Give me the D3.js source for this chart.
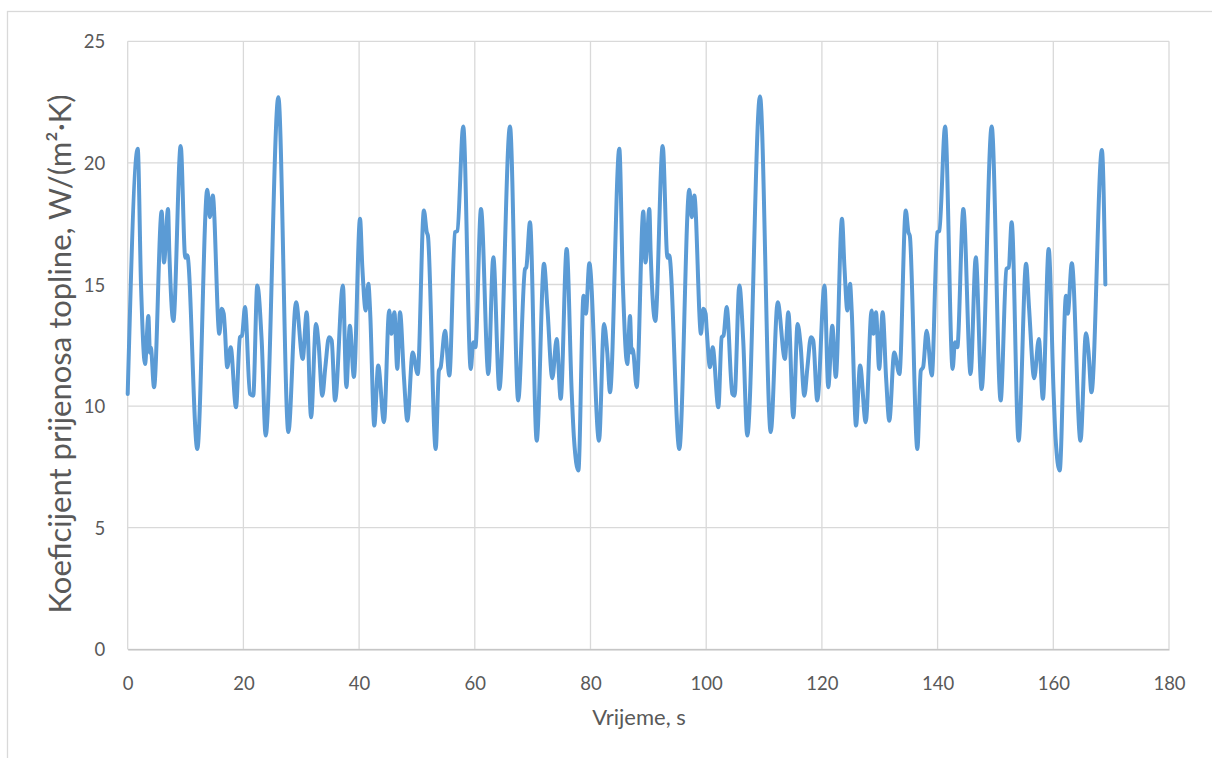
<!DOCTYPE html>
<html>
<head>
<meta charset="utf-8">
<script src="https://cdn.jsdelivr.net/npm/d3@7"></script>
<style>
  html, body { margin: 0; padding: 0; background: #fff; }
  svg { display: block; }
  text { font-family: Lato, "Open Sans", sans-serif; fill: #595959; }
</style>
</head>
<body>
<svg id="chart" width="1212" height="758"></svg>
<script>
// ---- data ----
const xTicks = [0, 20, 40, 60, 80, 100, 120, 140, 160, 180];
const yTicks = [0, 5, 10, 15, 20, 25];
const xTitle = "Vrijeme, s";
const yTitle = "Koeficijent prijenosa topline, W/(m²·K)";

const timeS = [
  0, 1.73, 2.3, 3.0, 3.57, 3.85, 4.0, 4.55, 5.87, 6.27, 6.97, 7.2, 7.89, 9.16, 9.95, 10.3,
  12.03, 13.76, 14.2, 14.7, 15.84, 16.24, 16.6, 16.8, 17.2, 17.8, 18.72, 19.4, 19.76, 20.28,
  21.14, 21.7, 22.4, 23.16, 23.85, 26.04, 27.77, 29.1, 30.25, 30.94, 31.7, 32.55, 33.0, 33.64,
  34.16, 34.8, 35.26, 35.84, 37.2, 37.8, 38.4, 39.1, 40.16, 40.56, 41.14, 41.6, 41.9, 42.63,
  43.3, 44.3, 45.2, 45.6, 46.1, 46.6, 47.07, 47.76, 48.34, 49.26, 50.13, 51.2, 51.7, 51.9,
  53.24, 53.8, 54.1, 54.85, 55.6, 56.58, 56.98, 58.0, 59.3, 59.74, 60.1, 61.07, 62.34, 63.2,
  64.24, 66.08, 67.5, 68.68, 68.9, 69.54, 70.7, 71.96, 72.54, 73.4, 74.15, 74.85, 75.88, 76.75,
  77.15, 77.9, 78.8, 79.2, 79.8, 81.47, 82.34, 82.9, 83.37,
  84.98, 85.6, 86.36, 86.83, 87.1, 87.3, 87.98, 89.13, 89.5, 90.17, 90.4, 91.2, 92.48, 93.3,
  93.6, 95.35, 97.08, 97.5, 97.94, 99.1, 99.5, 99.9, 100.08, 100.66, 101.12, 102.1, 102.68,
  103.0, 103.54, 104.52, 104.9, 105.73, 106.4, 107.1, 109.3, 111.15, 112.36, 113.6, 114.2,
  115.06, 115.8, 116.3, 116.96, 117.5, 118.1, 118.5, 119.2, 120.45, 121.1, 121.8, 122.4,
  123.47, 123.9, 124.4, 124.86, 125.15, 125.9, 126.6, 127.57, 128.6, 128.9, 129.35, 129.9,
  130.5, 131.1, 131.65, 132.5, 133.4, 134.5, 134.95, 135.2, 136.5, 137.1, 137.5, 138.1,
  139.0, 139.95, 140.3, 141.3, 142.6, 143.0, 143.4, 144.45, 145.7, 146.6, 147.6, 149.35,
  150.9, 151.9, 152.3, 152.8, 154.0, 155.3, 155.8, 156.7, 157.5, 158.2, 159.2, 160.05,
  160.4, 161.1, 162.2, 162.5, 163.2, 164.7, 165.65, 166.1, 166.6, 168.4, 169.0
];

const htcValues = [
  10.5, 20.58, 15.0, 11.73, 13.7, 12.2, 12.4, 10.78, 18.0, 15.9, 18.1, 16.3, 13.5, 20.7, 16.1, 16.2,
  8.24, 18.9, 17.77, 18.66, 12.97, 14.0, 13.8, 13.17, 11.6, 12.42, 9.95, 12.83, 12.9, 14.07,
  10.5, 10.43, 14.96, 12.7, 8.79, 22.7, 8.93, 14.27, 11.94, 13.86, 9.54, 13.38, 12.56, 10.43,
  11.6, 12.83, 12.7, 10.23, 14.96, 10.78, 13.3, 11.2, 17.7, 15.7, 13.93, 15.03, 13.93, 9.2,
  11.67, 9.34, 13.93, 12.97, 13.86, 11.53, 13.86, 11.15, 9.4, 12.2, 11.32, 18.04, 17.15, 17.0,
  8.24, 11.46, 11.6, 13.1, 11.26, 17.15, 17.2, 21.5, 11.53, 12.63, 12.42, 18.1, 11.32, 16.12,
  10.7, 21.5, 10.23, 15.64, 15.7, 17.56, 8.58, 15.85, 14.07, 11.15, 12.76, 10.3, 16.46, 10.57,
  8.65, 7.35, 14.54, 13.8, 15.87, 8.58, 13.38, 12.2, 10.57,
  20.58, 15.0, 11.73, 13.7, 12.2, 12.35, 10.78, 18.0, 15.9, 18.1, 16.3, 13.5, 20.7, 16.1,
  16.2, 8.24, 18.9, 17.77, 18.66, 12.97, 14.0, 13.8, 13.17, 11.6, 12.42, 9.95, 12.83,
  12.9, 14.07, 10.5, 10.43, 14.96, 12.7, 8.79, 22.73, 8.93, 14.27, 11.94, 13.86,
  9.54, 13.38, 12.56, 10.43, 11.6, 12.83, 12.7, 10.23, 14.96, 10.78, 13.3, 11.2,
  17.7, 15.7, 13.93, 15.03, 13.93, 9.2, 11.67, 9.34, 13.93, 12.97, 13.86, 11.53,
  13.86, 11.15, 9.4, 12.2, 11.32, 18.04, 17.15, 17.0, 8.24, 11.46, 11.6, 13.1,
  11.26, 17.15, 17.2, 21.5, 11.53, 12.63, 12.42, 18.1, 11.32, 16.12, 10.7, 21.5,
  10.23, 15.64, 15.7, 17.56, 8.58, 15.85, 14.07, 11.15, 12.76, 10.3, 16.46, 10.57,
  8.65, 7.35, 14.54, 13.8, 15.87, 8.58, 13.0, 12.2, 10.57, 20.53, 15.0
];

// ---- layout ----
const svg = d3.select("#chart");
const plot = { left: 127.7, right: 1169, top: 41.3, bottom: 649.3 };

const x = d3.scaleLinear().domain([0, 180]).range([plot.left, plot.right]);
const y = d3.scaleLinear().domain([0, 25]).range([plot.bottom, plot.top]);

// chart area border
svg.append("rect")
  .attr("x", 7.5).attr("y", 11.5).attr("width", 1300).attr("height", 900)
  .attr("fill", "#fff").attr("stroke", "#D9D9D9").attr("stroke-width", 1.3);

// gridlines
svg.append("g").selectAll("line").data(yTicks).join("line")
  .attr("x1", plot.left).attr("x2", plot.right)
  .attr("y1", d => y(d)).attr("y2", d => y(d))
  .attr("stroke", "#D9D9D9").attr("stroke-width", 1.3);
svg.append("g").selectAll("line").data(xTicks).join("line")
  .attr("y1", plot.top).attr("y2", plot.bottom)
  .attr("x1", d => x(d)).attr("x2", d => x(d))
  .attr("stroke", "#D9D9D9").attr("stroke-width", 1.3);

// axes (labels only, using d3 axes)
const xAxis = svg.append("g")
  .attr("transform", `translate(0,${plot.bottom})`)
  .call(d3.axisBottom(x).tickValues(xTicks).tickSize(0).tickPadding(0).tickFormat(d3.format("d")));
xAxis.select(".domain").attr("stroke", "#BFBFBF").attr("stroke-width", 1.3);
xAxis.selectAll("text").attr("y", 41).attr("dy", 0)
  .style("font-size", "18.5px").attr("fill", "#595959")
  .style("font-family", "Lato, 'Open Sans', sans-serif");

const yAxis = svg.append("g")
  .attr("transform", `translate(${plot.left},0)`)
  .call(d3.axisLeft(y).tickValues(yTicks).tickSize(0).tickPadding(0).tickFormat(d3.format("d")));
yAxis.select(".domain").remove();
yAxis.selectAll("text").attr("x", -22.5).attr("dy", "0.36em")
  .style("font-size", "18.5px").attr("fill", "#595959")
  .style("font-family", "Lato, 'Open Sans', sans-serif");

// axis titles
svg.append("text")
  .attr("x", 639).attr("y", 725)
  .attr("text-anchor", "middle")
  .style("font-size", "22px")
  .text(xTitle);

svg.append("text")
  .attr("transform", `translate(71,354) rotate(-90)`)
  .attr("text-anchor", "middle")
  .style("font-size", "31px")
  .text(yTitle);

// series line
const pts = timeS.map((t, i) => [t, htcValues[i]]);
const line = d3.line().x(d => x(d[0])).y(d => y(d[1])).curve(d3.curveMonotoneX);
svg.append("path")
  .datum(pts)
  .attr("d", line)
  .attr("fill", "none")
  .attr("stroke", "#5B9BD5")
  .attr("stroke-width", 4)
  .attr("stroke-linejoin", "round")
  .attr("stroke-linecap", "round");
</script>
</body>
</html>
